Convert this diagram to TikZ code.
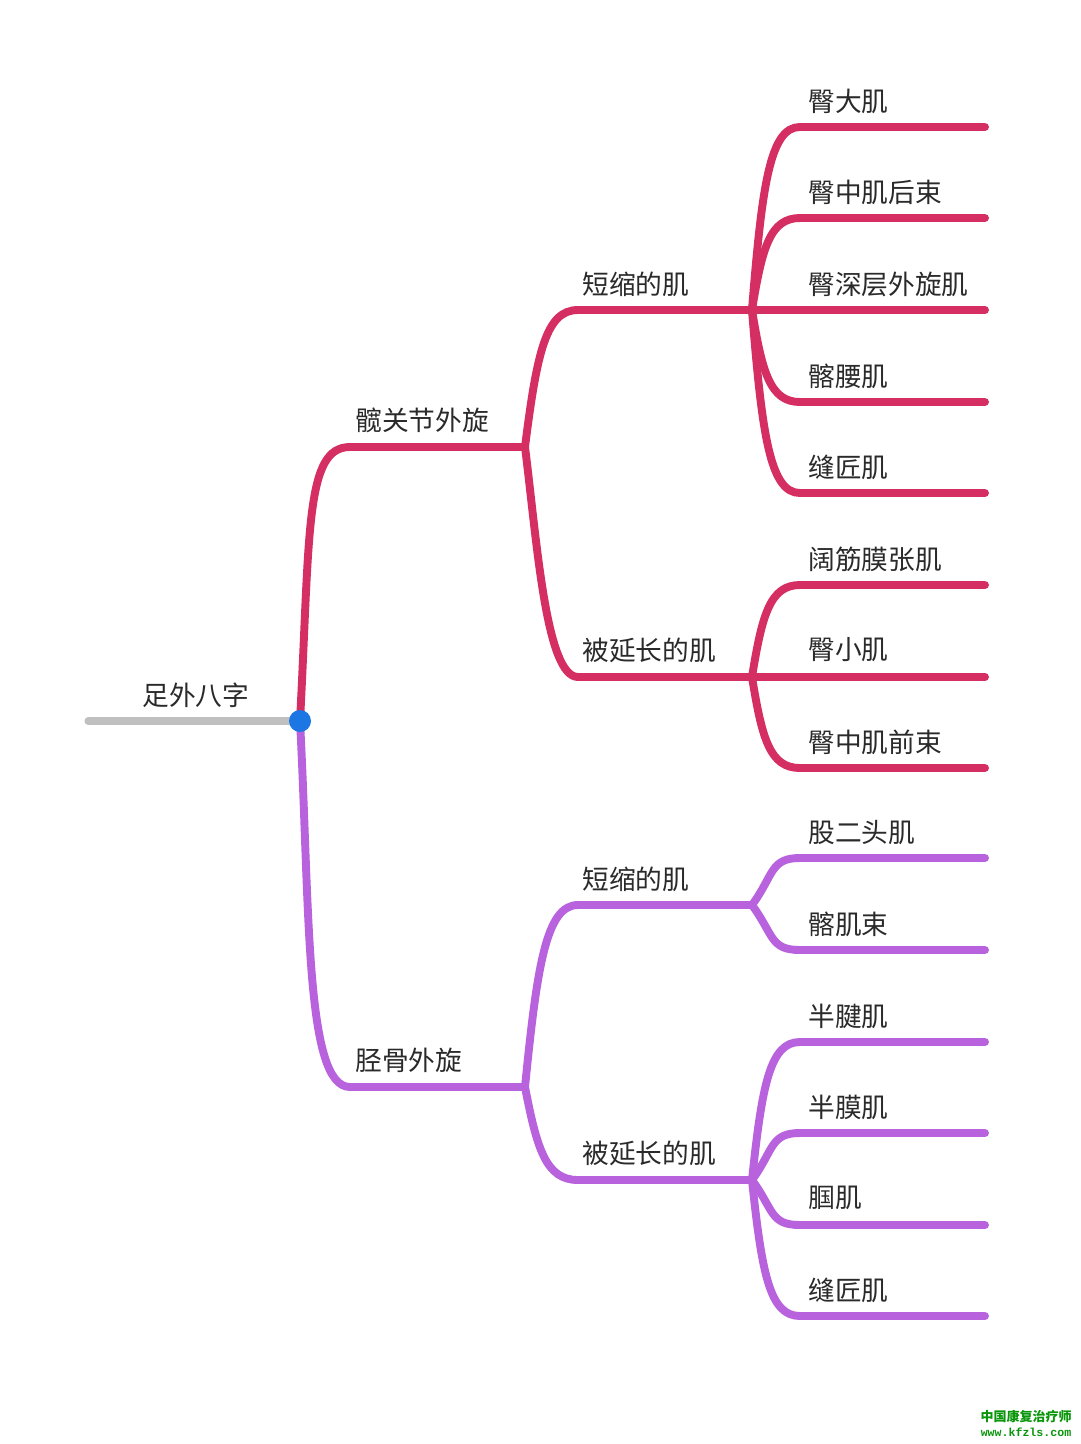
\documentclass[tikz,border=0pt]{standalone}
\usepackage{fontspec}
\usepackage{tikz}
\newfontfamily\cjk{Noto Sans CJK SC}
\newfontfamily\wmmono{Liberation Mono}

\definecolor{hipred}{RGB}{212,46,98}
\definecolor{tibpurple}{RGB}{184,98,222}
\definecolor{rootgray}{RGB}{192,192,192}
\definecolor{rootblue}{RGB}{28,118,228}
\definecolor{labelgray}{RGB}{42,42,42}
\definecolor{markgreen}{RGB}{10,150,10}

\tikzset{
  branch/.style={line width=4.5pt, line cap=round},
  hipline/.style={branch, draw=hipred},
  tibline/.style={branch, draw=tibpurple},
  lbl/.style={anchor=west, inner sep=0pt, text=labelgray, font=\cjk\fontsize{15.2pt}{18pt}\selectfont},
  wmark/.style={inner sep=0pt, text=markgreen}
}

\begin{document}
\begin{tikzpicture}[x=0.02cm, y=-0.02cm]
\useasboundingbox[fill=white] (0,0) rectangle (1080,1444);

% junctions
\coordinate (root) at (300,721);
\coordinate (rootend) at (88,721);
\coordinate (hip) at (350,447);
\coordinate (hipj) at (525,447);
\coordinate (tib) at (350,1087);
\coordinate (tibj) at (525,1087);
\coordinate (hs) at (578,310);
\coordinate (hsj) at (752,310);
\coordinate (hl) at (578,677);
\coordinate (hlj) at (752,677);
\coordinate (ts) at (578,905);
\coordinate (tsj) at (752,905);
\coordinate (tl) at (578,1180);
\coordinate (tlj) at (752,1180);

% root
\draw[branch, draw=rootgray, line width=4pt] (rootend) -- (root);
\node[lbl] (lroot) at (142,695) {足外八字};

% hip branch
\draw[hipline] (root) .. controls +(10,-190) and +(-45,0) .. (hip) -- (hipj);
\node[lbl] (lhip) at (355,420) {髋关节外旋};
\draw[hipline] (hipj) .. controls +(12,-95) and +(-32,0) .. (hs) -- (hsj);
\node[lbl] (lhs) at (582,284) {短缩的肌};
\draw[hipline] (hipj) .. controls +(12,95) and +(-32,0) .. (hl) -- (hlj);
\node[lbl] (lhl) at (582,650) {被延长的肌};

\draw[hipline] (hsj) .. controls +(10,-125) and +(-30,0) .. (800,127) coordinate (gmax) -- (985,127) coordinate (gmaxend);
\node[lbl] (lgmax) at (808,101) {臀大肌};
\draw[hipline] (hsj) .. controls +(10,-62) and +(-30,0) .. (800,218) coordinate (gmedp) -- (985,218) coordinate (gmedpend);
\node[lbl] (lgmedp) at (808,192) {臀中肌后束};
\draw[hipline] (hsj) -- (985,310) coordinate (deepend);
\node[lbl] (ldeep) at (808,284) {臀深层外旋肌};
\draw[hipline] (hsj) .. controls +(10,62) and +(-30,0) .. (800,402) coordinate (ilps) -- (985,402) coordinate (ilpsend);
\node[lbl] (lilps) at (808,376) {髂腰肌};
\draw[hipline] (hsj) .. controls +(10,125) and +(-30,0) .. (800,493) coordinate (sart) -- (985,493) coordinate (sartend);
\node[lbl] (lsart) at (808,467) {缝匠肌};

\draw[hipline] (hlj) .. controls +(10,-62) and +(-30,0) .. (800,585) coordinate (tfl) -- (985,585) coordinate (tflend);
\node[lbl] (ltfl) at (808,559) {阔筋膜张肌};
\draw[hipline] (hlj) -- (985,677) coordinate (gminend);
\node[lbl] (lgmin) at (808,650) {臀小肌};
\draw[hipline] (hlj) .. controls +(10,62) and +(-30,0) .. (800,768) coordinate (gmeda) -- (985,768) coordinate (gmedaend);
\node[lbl] (lgmeda) at (808,742) {臀中肌前束};

% tibia branch
\draw[tibline] (root) .. controls +(10,190) and +(-45,0) .. (tib) -- (tibj);
\node[lbl] (ltib) at (355,1060) {胫骨外旋};
\draw[tibline] (tibj) .. controls +(12,-120) and +(-32,0) .. (ts) -- (tsj);
\node[lbl] (lts) at (582,879) {短缩的肌};
\draw[tibline] (tibj) .. controls +(12,62) and +(-32,0) .. (tl) -- (tlj);
\node[lbl] (ltl) at (582,1153) {被延长的肌};

\draw[tibline] (tsj) .. controls +(22,-30) and +(-30,0) .. (800,858) coordinate (bicf) -- (985,858) coordinate (bicfend);
\node[lbl] (lbicf) at (808,833) {股二头肌};
\draw[tibline] (tsj) .. controls +(22,30) and +(-30,0) .. (800,950) coordinate (iliac) -- (985,950) coordinate (iliacend);
\node[lbl] (liliac) at (808,924) {髂肌束};

\draw[tibline] (tlj) .. controls +(10,-95) and +(-30,0) .. (800,1042) coordinate (semit) -- (985,1042) coordinate (semitend);
\node[lbl] (lsemit) at (808,1016) {半腱肌};
\draw[tibline] (tlj) .. controls +(22,-30) and +(-30,0) .. (800,1133) coordinate (semim) -- (985,1133) coordinate (semimend);
\node[lbl] (lsemim) at (808,1107) {半膜肌};
\draw[tibline] (tlj) .. controls +(22,30) and +(-30,0) .. (800,1225) coordinate (popl) -- (985,1225) coordinate (poplend);
\node[lbl] (lpopl) at (808,1198) {腘肌};
\draw[tibline] (tlj) .. controls +(10,95) and +(-30,0) .. (800,1316) coordinate (sart2) -- (985,1316) coordinate (sart2end);
\node[lbl] (lsart2) at (808,1290) {缝匠肌};

% root dot
\fill[rootblue] (root) circle[radius=11];

% watermark
\node[wmark, font=\cjk\bfseries\fontsize{7.4pt}{8pt}\selectfont] (wmcn) at (1026,1416) {中国康复治疗师};
\node[wmark, font=\wmmono\bfseries\fontsize{6.6pt}{8pt}\selectfont] (wmurl) at (1026,1432) {www.kfzls.com};
\end{tikzpicture}
\end{document}
